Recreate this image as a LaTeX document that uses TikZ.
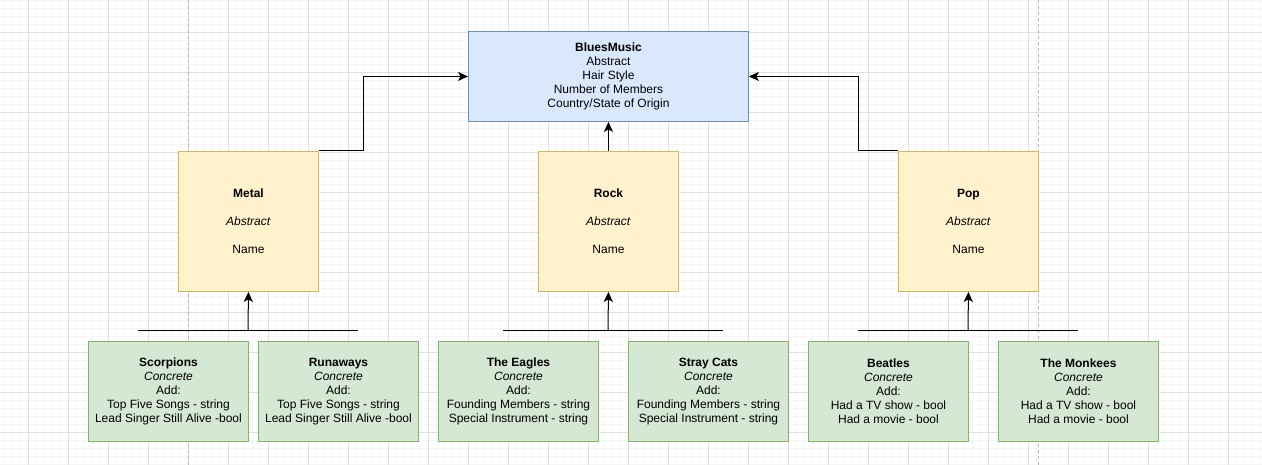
\documentclass[tikz,border=0pt]{standalone}
\usepackage{fontspec}
\setmainfont{Liberation Sans}
\usetikzlibrary{arrows.meta}
\definecolor{bluef}{HTML}{DAE8FC}
\definecolor{blued}{HTML}{6C8EBF}
\definecolor{yelf}{HTML}{FFF2CC}
\definecolor{yeld}{HTML}{D6B656}
\definecolor{grnf}{HTML}{D5E8D4}
\definecolor{grnd}{HTML}{82B366}
\definecolor{gmin}{HTML}{F5F5F5}
\definecolor{gmaj}{HTML}{E0E0E0}
\definecolor{pagel}{HTML}{B8B8B8}
\tikzset{
  box/.style={draw, line width=0.9pt, anchor=north west, align=center, inner sep=0pt,
    font=\fontsize{12}{14}\selectfont},
  bluebox/.style={box, fill=bluef, draw=blued, minimum width=280pt, minimum height=90pt},
  yelbox/.style={box, fill=yelf, draw=yeld, minimum width=140pt, minimum height=140pt},
  grnbox/.style={box, fill=grnf, draw=grnd, minimum width=160pt, minimum height=100pt},
  conn/.style={line width=1pt, black},
  arr/.style={conn, -{Stealth[length=10pt,width=9pt,inset=2.5pt]}},
}
\begin{document}
\begin{tikzpicture}[x=1pt,y=-1pt]
\useasboundingbox (0,0) rectangle (1262,465);
\fill[white] (0,0) rectangle (1262,465);
% grid
\foreach \x in {4,12,...,1262} \draw[gmin, line width=0.6pt] (\x,0) -- (\x,465);
\foreach \y in {0,8,...,465} \draw[gmin, line width=0.6pt] (0,\y) -- (1262,\y);
\foreach \x in {28,68,...,1262} \draw[gmaj, line width=0.8pt] (\x,0) -- (\x,465);
\foreach \y in {32,72,...,465} \draw[gmaj, line width=0.8pt] (0,\y) -- (1262,\y);
% page break lines
\draw[pagel, line width=0.8pt, dash pattern=on 3pt off 3pt] (188,0) -- (188,465);
\draw[pagel, line width=0.8pt, dash pattern=on 3pt off 3pt] (1038,0) -- (1038,465);

% nodes
\node[bluebox] (blues) at (468,31) {\textbf{BluesMusic}\\Abstract\\Hair Style\\Number of Members\\Country/State of Origin};
\node[yelbox] (metal) at (178,151) {\textbf{Metal}\\[14pt]\textit{Abstract}\\[14pt]Name};
\node[yelbox] (rock) at (538,151) {\textbf{Rock}\\[14pt]\textit{Abstract}\\[14pt]Name};
\node[yelbox] (pop) at (898,151) {\textbf{Pop}\\[14pt]\textit{Abstract}\\[14pt]Name};

\node[grnbox] (scorp) at (88,341) {\textbf{Scorpions}\\\textit{Concrete}\\Add:\\Top Five Songs - string\\Lead Singer Still Alive -bool};
\node[grnbox] (runa) at (258,341) {\textbf{Runaways}\\\textit{Concrete}\\Add:\\Top Five Songs - string\\Lead Singer Still Alive -bool};
\node[grnbox] (eagles) at (438,341) {\textbf{The Eagles}\\\textit{Concrete}\\Add:\\Founding Members - string\\Special Instrument - string};
\node[grnbox] (stray) at (628,341) {\textbf{Stray Cats}\\\textit{Concrete}\\Add:\\Founding Members - string\\Special Instrument - string};
\node[grnbox] (beat) at (808,341) {\textbf{Beatles}\\\textit{Concrete}\\Add:\\Had a TV show - bool\\Had a movie - bool};
\node[grnbox] (monk) at (998,341) {\textbf{The Monkees}\\\textit{Concrete}\\Add:\\Had a TV show - bool\\Had a movie - bool};

% bars
\coordinate (mL) at (138,331); \coordinate (mR) at (358,331); \coordinate (mC) at (248,331);
\coordinate (rL) at (503,331); \coordinate (rR) at (723,331); \coordinate (rC) at (608,331);
\coordinate (pL) at (858,331); \coordinate (pR) at (1078,331); \coordinate (pC) at (968,331);
\draw[conn] (mL) -- (mR);
\draw[conn] (rL) -- (rR);
\draw[conn] (pL) -- (pR);
\draw[arr] (mC) -- (metal.south);
\draw[arr] (rC) -- (rock.south);
\draw[arr] (pC) -- (pop.south);

% to top
\coordinate (mbend) at (363,151);
\coordinate (pbend) at (858,151);
\draw[arr] (metal.north east) -- (mbend) |- (blues.west);
\draw[arr] (pop.north west) -- (pbend) |- (blues.east);
\draw[arr] (rock.north) -- (blues.south);
\end{tikzpicture}
\end{document}
